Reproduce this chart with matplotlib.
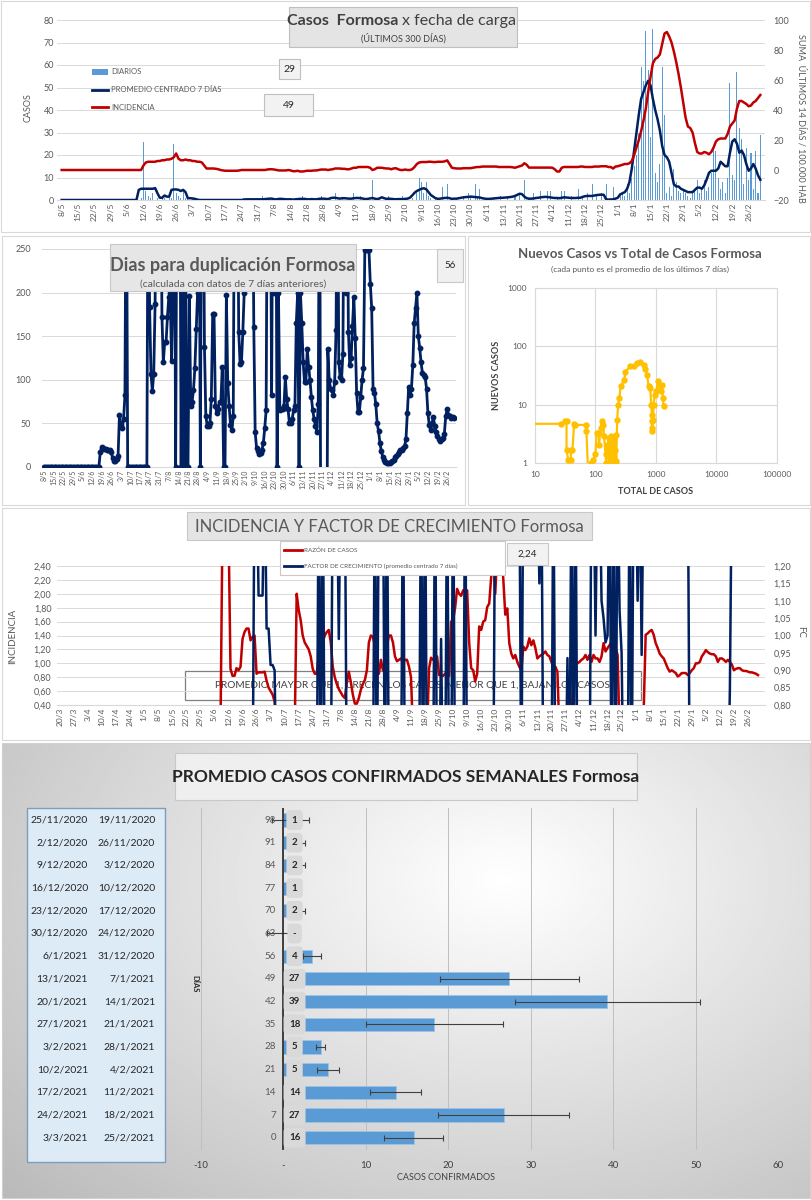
import numpy as np
import pandas as pd
import matplotlib
matplotlib.use('Agg')
import matplotlib.pyplot as plt
from matplotlib.patches import Rectangle
from matplotlib.ticker import NullLocator

plt.rcParams['font.family'] = ['Lato', 'DejaVu Sans']

# ---------------- DATA ----------------
P1_START = '2020-05-08'   # panels 1 & 2 (300 days)
P4_START = '2020-03-20'   # panel 4

# Panel 1: daily cases (bars)
p1_daily = ([0] * 24 +                                   # May 8-31
            [0] * 10 + [1, 26, 4, 2, 1, 3, 0, 1, 0, 2,
                        1, 0, 2, 1, 25, 3, 2, 1, 4, 1] +  # Jun
            [1, 0, 1, 0, 0, 0, 0, 0, 0, 0, 0, 0, 0, 0, 0, 0, 0, 0, 0, 0,
             0, 0, 0, 0, 1, 0, 0, 1, 0, 0, 1] +            # Jul
            [0, 2, 0, 0, 1, 0, 0, 0, 1, 0, 0, 0, 0, 1, 0, 0, 0, 0, 2, 0,
             0, 0, 1, 0, 0, 0, 2, 0, 0, 0, 1] +            # Aug
            [0, 3, 0, 0, 1, 0, 0, 0, 0, 3, 0, 0, 2, 0, 0, 0, 0, 9, 0, 0,
             1, 0, 0, 0, 2, 0, 0, 1, 0, 0] +               # Sep
            [2, 0, 0, 0, 1, 0, 3, 10, 8, 3, 8, 2, 1, 0, 1, 0, 0, 6, 0, 7,
             0, 1, 0, 1, 0, 0, 2, 0, 3, 2, 0] +            # Oct
            [7, 2, 5, 0, 0, 1, 0, 0, 1, 0, 0, 2, 0, 0, 1, 0, 0, 2, 0, 3,
             0, 9, 0, 1, 0, 3, 0, 0, 4, 0] +               # Nov
            [0, 4, 4, 0, 0, 1, 0, 4, 4, 0, 0, 2, 0, 0, 5, 0, 2, 0, 3, 0,
             7, 0, 2, 0, 3, 0, 7, 0, 1, 6, 0] +            # Dec
            [0, 2, 3, 2, 7, 3, 10, 15, 20, 30, 59, 53, 75, 58, 28, 76, 12, 8, 16, 59,
             38, 3, 6, 2, 14, 8, 4, 3, 5, 3, 2] +          # Jan
            [1, 3, 4, 9, 3, 5, 9, 4, 6, 12, 23, 22, 10, 5, 8, 3, 10, 52, 11, 9,
             57, 32, 27, 7, 23, 9, 21, 5] +                # Feb
            [22, 3, 29])                                   # Mar

# Panel 1: centred 7-day average
p1_avg = ([0] * 24 +
          [0] * 9 + [4.5, 5, 5, 5, 5, 5, 5, 5.3, 3, 1, 1, 2, 1.5, 1.5, 4.5, 4.7, 4.7, 4.5, 4, 4.5, 3.5] +
          [0.8, 0.8, 0.7, 0.5, 0.2] + [0] * 19 + [0.2] + [0.3] * 6 +
          [0.3, 0.3, 0.4, 0.5, 0.6, 0.6, 0.3, 0.3, 0.5, 0.5, 0.4, 0.3, 0.3, 0.3, 0.2, 0.3,
           0.4, 0.5, 0.5, 0.5, 0.3, 0.3, 0.4, 0.3, 0.3, 0.5, 0.6, 0.6, 0.5, 0.4, 0.8] +
          [1.0, 1.0, 0.8, 0.6, 0.8, 0.8, 0.7, 0.6, 0.6, 0.8, 0.9, 0.9, 0.8, 0.6, 0.4,
           0.5, 0.7, 0.9, 0.6, 0.4, 0.7, 1.2, 0.8, 0.5, 0.6, 0.5, 0.4, 0.3, 0.4, 0.4] +
          [0.4, 0.5, 0.6, 1.0, 2.0, 3.2, 4.0, 4.5, 5.0, 5.2, 4.8, 3.5, 2.2, 1.5, 0.8, 0.5,
           0.6, 0.8, 0.9, 1.0, 0.8, 0.5, 0.6, 0.6, 0.8, 1.0, 1.2, 1.3, 1.4, 1.5, 1.4] +
          [1.3, 1.2, 1.1, 0.8, 0.6, 0.5, 0.5, 0.6, 0.7, 0.8, 0.9, 1.0, 1.0, 1.1, 1.2,
           1.3, 1.5, 1.8, 2.3, 2.8, 2.6, 1.5, 0.8, 0.6, 0.6, 0.7, 0.9, 1.0, 1.2, 1.3] +
          [1.4, 1.3, 1.2, 1.0, 0.9, 0.9, 0.8, 1.0, 1.2, 1.1, 1.0, 0.9, 0.9, 0.9, 1.0, 1.0,
           1.4, 1.7, 1.8, 1.8, 1.8, 2.0, 2.2, 2.3, 2.4, 2.3, 0.3, 0.2, 0.2, 0.3, 0.6] +
          [1.0, 2.5, 3.0, 3.5, 5.0, 8.0, 14, 22, 30, 38, 45, 48, 51, 53, 51, 45, 40, 36, 31, 24,
           20, 19, 17, 12, 7, 6, 6, 5, 4.5, 4, 3.5] +
          [3.5, 3.5, 4.5, 5.5, 5.5, 5.0, 6.5, 9, 12, 13, 13, 13, 14, 17, 16, 15, 15, 21, 26, 27,
           25, 21, 22, 20, 16, 13, 14, 16] +
          [14, 11, 9])

# Panel 1: incidence (sum 14 days / 100.000 hab, right axis)
p1_incid = ([0] * 24 +
            [0] * 11 + [3, 5, 5.5, 5.5, 5.5, 5.5, 6, 6, 6.5, 6.5, 7, 7, 7.5, 8.5, 11, 7.5, 6.5, 6.5, 7] +
            [6.5, 6.5, 6, 6, 5.5, 5.5, 5, 3, 1, 1, 1, 1, 0.8, 0.5, 0, -0.3, -0.5, -0.5, -0.5, -0.5,
             -0.5, -0.5, -0.3, 0, 0, 0, 0, 0, 0, 0, 0] +
            [0, 0, 0, 0.3, 0.5, 0.5, 0.3, 0, -0.3, -0.3, -0.3, -0.3, 0, -0.3, -0.8, -0.8, -0.5, -1, -1, -0.8,
             -0.5, -0.5, -0.5, -0.3, -0.3, 0, 0.3, 0.3, 0.3, 0, 0.3] +
            [0.5, 1, 1, 1, 0.8, 0.8, 0.5, 0.5, 1, 1.5, 1.5, 2, 2, 2, 2, 2, 1.5, 0, 0.5, 1.5,
             1.5, 1.5, 1.2, 1, 1, 0.5, 1, 1.2, 0.5, 0] +
            [0, 0.3, 0, 0, 0.5, 2, 4, 5, 5.3, 5.3, 5.3, 5.5, 5.5, 5.3, 5.3, 5.5, 5.5, 5.5, 5.8, 6.4,
             4, 1.5, 1.2, 1, 1, 1, 1.2, 1.2, 1.2, 1.2, 1.5] +
            [1.8, 2, 2, 2.3, 2.3, 2.3, 2.3, 2.3, 2.3, 2.3, 2, 2, 2, 2, 2, 2, 1.8, 1.5, 2, 2.5,
             3, 4.5, 3.5, 1.6, 1.6, 1.6, 1.6, 1.6, 1.6, 1.6] +
            [1.6, 1.6, 1.6, 1.5, 0.5, -1, -1, 1.5, 2, 2, 2, 2, 2, 2, 2, 2.3, 2.3, 2, 2, 2,
             2, 2.3, 2.3, 2.3, 2.5, 2.5, 2.5, 2, 2, 1, 2.3] +
            [2.5, 3, 3.5, 4, 4, 4.5, 6, 10, 15, 20, 26, 33, 41, 52, 62, 71, 74, 75, 77, 84,
             91, 92, 89, 85, 79, 72, 64, 55, 45, 35, 29] +
            [28, 25, 18, 12, 11, 11, 12, 11.5, 10.5, 12, 15, 19, 20.5, 21, 21, 21, 24, 29, 31, 33,
             41, 46, 46, 45, 44, 42.5, 43, 45] +
            [46, 48, 50])

# Panel 2: days to doubling (values > 250 run off the chart, < 0 below it)
p2_doubling = [0] * 40 + [
    0, 17, 23, 22, 21, 21, 20, 20, 19, 17,
    10, 7, 7, 9, 13, 60, 48, 45, 55, 82,
    400, 0, 0, 0, 0, 0, 0, 0, 0, 0,
    0, 0, 0, 0, 0, 0, 400, 183, 107, 87,
    107, 187, 400, 400, 400, 400, 172, 120, 143, 143,
    172, 195, 200, 122, 200, 400, 0, 400, 400, 400,
    0, 400, 0, 400, 0, 0, 196, 70, 75, 88,
    113, 158, 200, 400, 0, 400, 400, 138, 59, 47,
    47, 50, 78, 175, 175, 70, 62, 67, 75, 75,
    115, 0, 0, 197, 96, 70, 48, 42, 58, 400,
    400, 400, 155, 118, 120, 155, 200, 400, 400, 400,
    400, 400, 400, 160, 40, 22, 18, 15, 16, 20,
    28, 45, 65, 400, 400, 400, 83, 400, 200, 400,
    0, 200, 65, 67, 67, 70, 103, 78, 66, 50,
    50, 55, 65, 70, 165, 200, 0, 200, 165, 120,
    97, 98, 135, 115, 100, 80, 65, 55, 47, 40,
    72, 400, -200, -200, -200, -200, -200, 135, 100, 90,
    88, 83, 98, 157, 400, 120, 103, 100, 130, 400,
    200, 400, 155, 117, 125, 162, 195, 148, 85, 63,
    63, 80, 100, 113, 249, 249, 249, 249, 210, 182,
    90, 85, 72, 50, 41, 28, 18, 12, 8, 6,
    5, 5, 5, 6, 7, 8, 11, 13, 15, 17,
    19, 20, 22, 24, 32, 62, 92, 82, 90, 117,
    165, 182, 200, 150, 137, 120, 108, 105, 103, 90,
    62, 48, 42, 50, 57, 47, 40, 36, 32, 30,
    32, 33, 38, 58, 66, 60, 58, 56, 57, 56]

# Panel 3: total cases vs new cases (7-day mean)
p3_total = [5, 26.7, 31.5, 33.2, 33.2, 35.3, 39.1, 39.1, 41.6, 44.3,
            46, 68.9, 70.6, 76, 83.4, 92.2, 100, 104, 114, 114,
            122, 126, 135, 138, 147, 150, 155, 160, 165, 170,
            175, 180, 185, 190, 195, 200, 205, 210, 215, 220,
            228, 237, 249, 259, 300, 312, 378, 430, 488, 553,
            628, 667, 710, 755, 802, 835, 856, 856, 856, 870,
            890, 914, 950, 1012, 1077, 1146, 1205, 1251, 1301, 1331]
p3_new = [4.7, 4.7, 5.2, 5.3, 1.7, 1.14, 1.14, 1.7, 1.7, 4.66,
          4.5, 4.5, 3.6, 0.6, 1.0, 1.14, 1.4, 3.3, 3.3, 2.06,
          4.0, 5.2, 4.5, 2.9, 1.4, 1.0, 2.0, 1.3, 2.7, 1.0,
          1.7, 2.9, 1.0, 2.0, 1.3, 2.6, 1.0, 1.7, 3.0, 1.1,
          5.5, 10, 13, 20.6, 26.8, 37, 45.5, 46.7, 51.9, 53,
          48.5, 40.3, 32.7, 20.6, 19.3, 10, 6.7, 5.2, 3.6, 4.0,
          5.5, 10, 14.8, 16.9, 25.8, 20.6, 16.9, 22, 13, 9.4]

# Panel 4: ratio of cases (left) and growth factor (right)
p4_ratio = [0] * 80 + [
    0, 3, 3, 3, 3, 0.92, 0.82, 0.82, 0.93, 0.9,
    0.95, 1.35, 1.45, 1.5, 1.5, 1.33, 1.38, 1.4, 0.85, 0.87,
    0.87, 0.87, 0.88, 0.75, 0.65, 0.6, 0.55, 0.45, 0, 0,
    0, 0, 0, 0, 0, 0, 0, 0, 2.0, 1.77,
    1.62, 1.4, 1.3, 1.25, 1.2, 1.1, 0.92, 0.85, 0.85, 1.1,
    1.22, 1.3, 1.4, 1.45, 1.48, 1.3, 0.95, 0.8, 0.7, 0.63,
    0.58, 0.53, 0.5, 0.72, 0.88, 0.73, 0.55, 0.42, 0.42, 0.5,
    0.62, 0.7, 0.76, 0.9, 1.3, 1.4, 1.38, 1.25, 0.85, 0.85,
    1.05, 0.9, 1.05, 1.25, 1.4, 1.4, 1.3, 1.1, 1.03, 1.05,
    1.07, 1.0, 1.05, 1.05, 0.95, 0.8, 0, 0, 0, 0,
    0, 0, 0, 0, 0.93, 1.08, 1.05, 1.08, 1.1, 0.83,
    0.83, 0.82, 0.85, 0.88, 0.82, 1.6, 1.62, 1.8, 2.07, 2.0,
    1.97, 2.05, 2.05, 2.05, 1.3, 0.93, 0.9, 0.74, 0.85, 1.53,
    1.48, 1.6, 1.62, 1.81, 1.86, 2.25, 2.6, 2.0, 2.6, 2.6,
    2.6, 2.22, 1.7, 1.79, 1.29, 1.14, 1.07, 1.12, 1.02, 0.95,
    0.9, 1.24, 1.19, 1.24, 1.36, 1.26, 1.33, 1.22, 1.07, 1.1,
    1.12, 1.14, 1.17, 1.12, 1.1, 1.02, 0.95, 0.95, 0.88, 0,
    0, 0, 0, 0, 0, 0.3, 0.7, 0.98, 1.0, 1.02,
    1.05, 1.07, 1.12, 1.05, 1.12, 1.02, 1.12, 1.07, 1.07, 1.02,
    1.1, 1.29, 1.17, 1.22, 1.26, 1.31, 1.26, 1.22, 1.12, 0,
    0, 0, 0, 0, 0, 0, 0, 0, 0, 0,
    0, 0.3, 1.41, 1.43, 1.46, 1.48, 1.41, 1.29, 1.22, 1.14,
    1.1, 1.07, 1.0, 0.93, 0.88, 0.9, 0.88, 0.86, 0.81, 0.83,
    0.86, 0.86, 0.86, 0.83, 0.86, 0.9, 0.93, 1.0, 1.0, 1.02,
    1.1, 1.14, 1.19, 1.16, 1.14, 1.13, 1.13, 1.1, 1.02, 1.07,
    1.07, 1.05, 1.02, 1.05, 1.02, 0.98, 0.9, 0.92, 0.93, 0.93,
    0.9, 0.89, 0.89, 0.88, 0.87, 0.87, 0.86, 0.85, 0.83]

p4_factor = [0.5] * 90 + [
    0.5, 0.5, 0.5, 0.5, 0.5, 0.5, 0.5, 1.5, 1.5, 1.115,
    1.115, 1.115, 1.5, 1.02, 1.02, 0.915, 0.915, 0.9, 0.5, 0.5,
    0.5, 0.5, 0.5, 0.5, 0.5, 0.5, 0.5, 0.5, 0.5, 0.5,
    0.5, 0.5, 0.5, 0.5, 0.5, 0.5, 0.5, 0.5, 0.5, 1.5,
    0.5, 1.5, 0.5, 0.5, 0.5, 0.5, 1.5, 1.5, 1.5, 0.99,
    1.5, 1.5, 1.5, 0.5, 0.5, 0.5, 0.5, 0.5, 0.5, 0.5,
    0.5, 0.5, 0.5, 0.5, 0.5, 0.5, 0.5, 1.5, 0.5, 1.5,
    1.5, 1.5, 0.5, 1.5, 0.5, 0.5, 0.5, 0.5, 0.5, 0.5,
    0.5, 1.5, 0.5, 0.5, 0.5, 0.5, 0.5, 0.5, 0.5, 0.5,
    1.5, 0.5, 1.5, 0.5, 0.5, 0.5, 0.5, 1.5, 0.5, 0.5,
    0.99, 0.5, 0.5, 1.5, 0.5, 0.5, 1.5, 0.5, 0.5, 0.5,
    0.5, 0.5, 1.5, 0.5, 0.5, 0.5, 0.5, 0.5, 0.5, 0.5,
    0.5, 0.5, 0.5, 0.5, 0.5, 0.5, 0.5, 1.5, 1.5, 1.5,
    1.5, 1.5, 1.5, 1.5, 1.5, 1.5, 1.5, 1.5, 1.5, 1.5,
    0.5, 1.5, 1.5, 1.5, 1.5, 1.5, 1.5, 1.5, 1.5, 1.15,
    1.5, 0.5, 0.5, 0.5, 0.5, 0.5, 1.5, 0.5, 0.5, 0.5,
    0.5, 0.5, 0.5, 0.935, 0.5, 1.5, 0.5, 1.5, 0.5, 0.5,
    0.5, 0.5, 0.5, 0.5, 0.5, 1.5, 1.5, 1.0, 1.5, 1.5,
    1.1, 1.05, 0.98, 1.0, 1.5, 0.5, 1.5, 0.5, 1.5, 1.07,
    0.95, 0.5, 0.5, 0.5, 1.5, 0.5, 1.5, 1.5, 1.1, 1.5,
    0.944, 1.5, 1.5, 1.5, 1.5, 1.5, 1.5, 1.5, 1.5, 1.5,
    1.5, 1.5, 1.5, 1.5, 1.5, 1.5, 1.5, 1.5, 1.5, 1.5,
    1.5, 1.5, 1.5, 1.5, 0.5, 0.5, 0.5, 0.5, 0.5, 0.5,
    0.5, 0.5, 0.5, 0.5, 0.5, 0.5, 0.5, 0.5, 0.5, 0.5,
    0.5, 0.5, 0.5, 0.5, 0.85, 1.5, 1.5, 1.5, 1.5, 1.5,
    1.5, 1.5, 1.5, 1.5, 1.5, 1.5, 1.5, 1.5, 1.5]

# Panel 5: weekly average of confirmed cases
p5_days = ['98', '91', '84', '77', '70', '63', '56', '49', '42', '35', '28', '21', '14', '7', '0']
p5_mean = [0.85, 1.6, 1.6, 1.0, 1.6, 0.0, 3.5, 27.4, 39.3, 18.3, 4.5, 5.4, 13.6, 26.7, 15.8]
p5_err = [2.25, 1.0, 1.0, 0.0, 1.0, 2.0, 1.1, 8.4, 11.2, 8.3, 0.6, 1.3, 3.1, 7.9, 3.6]
p5_labels = ['1', '2', '2', '1', '2', '-', '4', '27', '39', '18', '5', '5', '14', '27', '16']
p5_week_end = ['25/11/2020', '2/12/2020', '9/12/2020', '16/12/2020', '23/12/2020', '30/12/2020',
               '6/1/2021', '13/1/2021', '20/1/2021', '27/1/2021', '3/2/2021', '10/2/2021',
               '17/2/2021', '24/2/2021', '3/3/2021']
p5_week_start = ['19/11/2020', '26/11/2020', '3/12/2020', '10/12/2020', '17/12/2020', '24/12/2020',
                 '31/12/2020', '7/1/2021', '14/1/2021', '21/1/2021', '28/1/2021', '4/2/2021',
                 '11/2/2021', '18/2/2021', '25/2/2021']

# ---------------- FIGURE ----------------
W, H = 812, 1200
fig = plt.figure(figsize=(W / 100, H / 100), dpi=100)
fig.patch.set_facecolor('white')

GRAY = '#595959'
NAVY = '#002060'
RED = '#C00000'
BLUE = '#5B9BD5'
GRID = '#D9D9D9'


def add_ax(l, t, r, b, **kw):
    ax = fig.add_axes([l / W, 1 - b / H, (r - l) / W, (b - t) / H], **kw)
    ax.set_facecolor('none')
    return ax


def rect(x0, y0, x1, y1, fc='none', ec=GRID, lw=0.8, z=5):
    r = Rectangle((x0 / W, 1 - y1 / H), (x1 - x0) / W, (y1 - y0) / H,
                  transform=fig.transFigure, fc=fc, ec=ec, lw=lw, zorder=z)
    fig.add_artist(r)
    return r


def ftext(x, y, s, **kw):
    kw.setdefault('zorder', 7)
    kw.setdefault('color', GRAY)
    return fig.text(x / W, 1 - y / H, s, **kw)


def date_labels(start, n):
    d = pd.date_range(start, periods=n)
    return [f'{x.day}/{x.month}' for x in d[::7]]


def clean(ax, keep_bottom=True):
    for s in ['top', 'right', 'left']:
        ax.spines[s].set_visible(False)
    ax.spines['bottom'].set_visible(keep_bottom)
    ax.spines['bottom'].set_color(GRID)
    ax.tick_params(length=0)


# ---- panel frames ----
rect(1, 1, 810, 232)
rect(2, 236, 465, 505)
rect(468, 236, 810, 505)
rect(2, 508, 810, 740)

# ---- panel 5 background gradient ----
bg = add_ax(2, 743, 810, 1198, zorder=-2)
yy, xx = np.mgrid[0:1:240j, 0:1:400j]
dist = np.sqrt(((xx - 0.62) / 0.75) ** 2 + ((yy - 0.3) / 0.9) ** 2)
bg.imshow(1 - 0.24 * np.clip(dist, 0, 1.25), cmap='gray', vmin=0, vmax=1,
          extent=[0, 1, 0, 1], aspect='auto', origin='upper')
bg.set_axis_off()
rect(2, 743, 810, 1198, ec='#D0D0D0')

# ================= PANEL 1 =================
n1 = len(p1_daily)
x1 = np.arange(n1)
ax1 = add_ax(57, 20, 765, 200)
ax1.bar(x1, p1_daily, width=0.45, color=BLUE, zorder=2)
ax1.plot(np.arange(len(p1_avg)), p1_avg, color=NAVY, lw=1.8, zorder=3)
ax1.set_xlim(-2, 301)
ax1.set_ylim(0, 80)
ax1.set_yticks(range(0, 81, 10))
ax1.grid(axis='y', color=GRID, lw=0.7)
ax1.set_axisbelow(True)
ax1.set_xticks(np.arange(0, 300, 7))
ax1.set_xticklabels(date_labels(P1_START, 300), rotation=90, fontsize=6)
clean(ax1)
ax1.tick_params(axis='both', labelcolor=GRAY, pad=2)
ax1.tick_params(axis='y', labelsize=6.5)
ax1r = ax1.twinx()
ax1r.set_facecolor('none')
ax1r.plot(np.arange(len(p1_incid)), p1_incid, color=RED, lw=1.8, zorder=3)
ax1r.set_ylim(-20, 100)
ax1r.set_yticks(range(-20, 101, 20))
for s in ax1r.spines.values():
    s.set_visible(False)
ax1r.tick_params(length=0, labelsize=6.5, labelcolor=GRAY, pad=6)
ftext(28, 108, 'CASOS', rotation=90, fontsize=6.5, ha='center', va='center')
ftext(801, 118, 'SUMA  ÚLTIMOS 14 DÍAS / 100.000 HAB', rotation=270, fontsize=6.5,
      ha='center', va='center')

# title box
rect(289, 7, 517, 47, fc='#E4E4E4', ec='#BFBFBF', lw=0.8, z=5)
ftext(398, 21, 'Casos  Formosa', fontsize=11.5, fontweight='bold', ha='right', va='center', color='#404040')
ftext(402, 21, 'x fecha de carga', fontsize=11.5, ha='left', va='center', color='#404040')
ftext(403, 38, '(ÚLTIMOS 300 DÍAS)', fontsize=6.5, ha='center', va='center', color='#404040')

# legend
rect(92, 69, 108, 75, fc=BLUE, ec='none', z=6)
ftext(111, 72, 'DIARIOS', fontsize=5.5, va='center')
fig.add_artist(plt.Line2D([92 / W, 108 / W], [1 - 90 / H, 1 - 90 / H], color=NAVY, lw=2,
                          transform=fig.transFigure, zorder=6))
ftext(111, 90, 'PROMEDIO CENTRADO 7 DÍAS', fontsize=5.5, va='center')
fig.add_artist(plt.Line2D([92 / W, 108 / W], [1 - 107 / H, 1 - 107 / H], color=RED, lw=2,
                          transform=fig.transFigure, zorder=6))
ftext(111, 107, 'INCIDENCIA', fontsize=5.5, va='center')

rect(279, 59, 300, 79, fc='#F2F2F2', ec='#BFBFBF', z=5)
ftext(289.5, 69, '29', fontsize=7.5, ha='center', va='center', color='#262626')
rect(264, 94, 313, 116, fc='#F2F2F2', ec='#BFBFBF', z=5)
ftext(288.5, 105, '49', fontsize=7.5, ha='center', va='center', color='#262626')

# ================= PANEL 2 =================
ax2 = add_ax(42, 249, 456, 467)
ax2.plot(np.arange(len(p2_doubling)), p2_doubling, color=NAVY, lw=2.0, marker='o', ms=3.2, zorder=3)
ax2.set_xlim(-1.5, 300.5)
ax2.set_ylim(0, 250)
ax2.set_yticks(range(0, 251, 50))
ax2.grid(axis='y', color=GRID, lw=0.7)
ax2.set_axisbelow(True)
ax2.set_xticks(np.arange(0, 300, 7))
ax2.set_xticklabels(date_labels(P1_START, 300), rotation=90, fontsize=5)
clean(ax2)
ax2.tick_params(axis='both', labelcolor=GRAY, pad=2)
ax2.tick_params(axis='y', labelsize=6.5, pad=8)

rect(110, 244, 356, 291, fc='#E7E6E6', ec='#C8C8C8', z=5)
ftext(233, 265, 'Dias para duplicación Formosa', fontsize=13, fontweight='bold',
      ha='center', va='center', color='#595959')
ftext(233, 284, '(calculada con datos de 7 días anteriores)', fontsize=7.5,
      ha='center', va='center', color='#595959')
rect(437, 249, 463, 282, fc='#F0F0F0', ec='#C8C8C8', z=5)
ftext(450, 266, '56', fontsize=7, ha='center', va='center', color='#262626')

# ================= PANEL 3 =================
ax3 = add_ax(535, 288, 777, 463)
ax3.set_xscale('log')
ax3.set_yscale('log')
ax3.plot(p3_total, p3_new, color='#FFC000', lw=1.6, marker='o', ms=3.6, zorder=3)
ax3.set_xlim(10, 100000)
ax3.set_ylim(1, 1000)
ax3.set_xticks([10, 100, 1000, 10000, 100000])
ax3.set_xticklabels(['10', '100', '1000', '10000', '100000'])
ax3.set_yticks([1, 10, 100, 1000])
ax3.set_yticklabels(['1', '10', '100', '1000'])
ax3.xaxis.set_minor_locator(NullLocator())
ax3.yaxis.set_minor_locator(NullLocator())
ax3.grid(True, color=GRID, lw=0.8)
ax3.set_axisbelow(True)
for s in ax3.spines.values():
    s.set_color(GRID)
ax3.tick_params(length=0, labelsize=6, labelcolor=GRAY, pad=6)
ftext(640, 254, 'Nuevos Casos vs Total de Casos Formosa', fontsize=9.5, fontweight='bold',
      ha='center', va='center', color='#595959')
ftext(640, 269, '(cada punto es el promedio de los últimos 7 días)', fontsize=6,
      ha='center', va='center', color='#595959')
ftext(497, 375, 'NUEVOS CASOS', fontsize=6.5, fontweight='bold', rotation=90,
      ha='center', va='center', color='#404040')
ftext(656, 492, 'TOTAL DE CASOS', fontsize=6.5, fontweight='bold',
      ha='center', va='center', color='#404040')

# ================= PANEL 4 =================
ax4 = add_ax(57, 566, 765, 705)
ax4.add_patch(Rectangle((185 / W, 1 - 700 / H), (641 - 185) / W, (700 - 671) / H,
                        transform=fig.transFigure, fc='none', ec='#7F7F7F', lw=0.9, zorder=0.5,
                        clip_on=False))
ax4.text(413 / W, 1 - 686 / H, 'PROMEDIO MAYOR QUE 1, CRECEN LOS CASOS, MENOR QUE 1, BAJAN LOS CASOS',
         transform=fig.transFigure, fontsize=7.3, ha='center', va='center', color='#404040', zorder=0.6)
ax4.plot(np.arange(len(p4_ratio)), p4_ratio, color=RED, lw=1.8, zorder=3)
ax4.set_xlim(-1.5, 351.5)
ax4.set_ylim(0.4, 2.4)
yt = np.round(np.arange(0.4, 2.41, 0.2), 2)
ax4.set_yticks(yt)
ax4.set_yticklabels([f'{v:.2f}'.replace('.', ',') for v in yt])
ax4.grid(axis='y', color=GRID, lw=0.7)
ax4.set_axisbelow(True)
ax4.set_xticks(np.arange(0, 349, 7))
ax4.set_xticklabels(date_labels(P4_START, 349), rotation=90, fontsize=6)
clean(ax4)
ax4.tick_params(axis='both', labelcolor=GRAY, pad=2)
ax4.tick_params(axis='y', labelsize=6.5, pad=4)
ax4r = ax4.twinx()
ax4r.set_facecolor('none')
ax4r.plot(np.arange(len(p4_factor)), p4_factor, color=NAVY, lw=1.8, zorder=3)
ax4r.set_ylim(0.8, 1.2)
yt2 = np.round(np.arange(0.8, 1.201, 0.05), 2)
ax4r.set_yticks(yt2)
ax4r.set_yticklabels([f'{v:.2f}'.replace('.', ',') for v in yt2])
for s in ax4r.spines.values():
    s.set_visible(False)
ax4r.tick_params(length=0, labelsize=6.5, labelcolor=GRAY, pad=6)
ftext(13, 636, 'INCIDENCIA', rotation=90, fontsize=7, ha='center', va='center')
ftext(801, 632, 'FC', rotation=270, fontsize=7, ha='center', va='center')

rect(187, 512, 592, 540, fc='#E4E4E4', ec='#C8C8C8', z=5)
ftext(389, 527, 'INCIDENCIA Y FACTOR DE CRECIMIENTO Formosa', fontsize=12,
      ha='center', va='center', color='#595959')
rect(280, 541, 505, 575, fc='white', ec='#C8C8C8', z=5)
fig.add_artist(plt.Line2D([284 / W, 302 / W], [1 - 550 / H, 1 - 550 / H], color=RED, lw=2,
                          transform=fig.transFigure, zorder=6))
ftext(304, 550, 'RAZÓN DE CASOS', fontsize=4.5, va='center')
fig.add_artist(plt.Line2D([284 / W, 302 / W], [1 - 566 / H, 1 - 566 / H], color=NAVY, lw=2,
                          transform=fig.transFigure, zorder=6))
ftext(304, 566, 'FACTOR DE CRECIMIENTO (promedio centrado 7 días)', fontsize=4.5, va='center')
rect(507, 543, 548, 565, fc='#F2F2F2', ec='#C8C8C8', z=5)
ftext(527.5, 554, '2,24', fontsize=7, ha='center', va='center', color='#262626')

# ================= PANEL 5 =================
rect(175, 753, 637, 800, fc='#EFEFEF', ec='#C8C8C8', z=5)
ftext(406, 777, 'PROMEDIO CASOS CONFIRMADOS SEMANALES Formosa', fontsize=12.5, fontweight='bold',
      ha='center', va='center', color='#262626')

rect(27, 808, 165, 1162, fc='#DDEBF7', ec='#7F9DB9', lw=1.0, z=5)
for i, (a, b) in enumerate(zip(p5_week_end, p5_week_start)):
    yy_ = 820 + 22.7 * i
    ftext(88, yy_, a, fontsize=7.5, ha='right', va='center', color='#262626')
    ftext(155, yy_, b, fontsize=7.5, ha='right', va='center', color='#262626')

ax5 = add_ax(201, 808, 778, 1150)
idx = np.arange(len(p5_mean))
ax5.barh(idx, p5_mean, height=0.58, color=BLUE, edgecolor='#9DC3E6', lw=0.6, zorder=3)
ax5.errorbar(p5_mean, idx, xerr=p5_err, fmt='none', ecolor='#404040', elinewidth=0.8,
             capsize=2.3, capthick=0.8, zorder=4)
for i, lab in enumerate(p5_labels):
    ax5.text(1.35, i, lab, ha='center', va='center', fontsize=7, fontweight='bold', color='#262626',
             bbox=dict(boxstyle='round,pad=0.55,rounding_size=0.4', fc='#D9D9D9', ec='none'), zorder=5)
    ax5.text(-0.9, i, p5_days[i], ha='right', va='center', fontsize=7, color=GRAY, zorder=5)
ax5.set_xlim(-10, 60)
ax5.set_ylim(14.54, -0.53)
ax5.set_xticks(range(-10, 61, 10))
ax5.set_xticklabels(['-10', '-', '10', '20', '30', '40', '50', '60'])
ax5.set_yticks([])
ax5.grid(axis='x', color='#BFBFBF', lw=0.7)
ax5.set_axisbelow(True)
for s in ax5.spines.values():
    s.set_visible(False)
ax5.axvline(0, color='#262626', lw=1.2, zorder=4)
ax5.tick_params(length=0, labelsize=7, labelcolor='#404040', pad=8)
ftext(446, 1178, 'CASOS CONFIRMADOS', fontsize=6.5, ha='center', va='center', color='#404040')
ftext(195, 984, 'DÍAS', fontsize=5.5, fontweight='bold', rotation=270, ha='center', va='center',
      color='#262626')

fig.savefig('out.png', dpi=100)
